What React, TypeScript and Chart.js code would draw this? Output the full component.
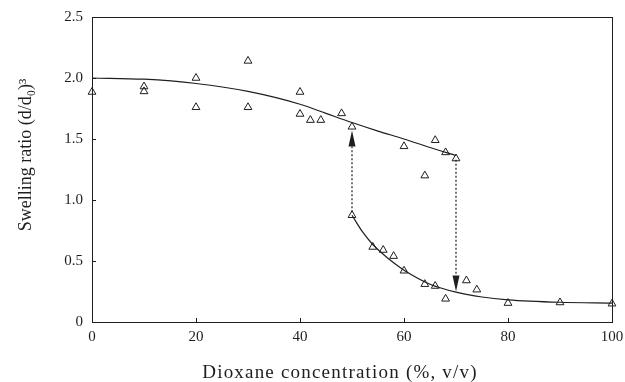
import React, { useEffect, useRef } from "react";
import { Chart, registerables } from "chart.js";

Chart.register(...registerables);

// Measured points (open triangles)
const upperX = [0, 10, 10, 20, 20, 30, 30, 40, 40, 42, 44, 48, 50, 60, 64, 66, 68, 70];
const upperY = [1.885, 1.93, 1.89, 2.0, 1.76, 2.14, 1.76, 1.885, 1.705, 1.655, 1.655, 1.71, 1.6, 1.44, 1.2, 1.49, 1.39, 1.34];
const lowerX = [50, 54, 56, 58, 60, 64, 66, 68, 72, 74, 80, 90, 100];
const lowerY = [0.875, 0.615, 0.59, 0.54, 0.42, 0.31, 0.295, 0.19, 0.34, 0.265, 0.155, 0.16, 0.15];

// Fitted curves
const fitUpperX = [0, 10, 20, 30, 40, 45, 50, 55, 60, 65, 70];
const fitUpperY = [2.0, 1.99, 1.955, 1.89, 1.785, 1.71, 1.635, 1.565, 1.5, 1.43, 1.365];
const fitLowerX = [50, 52, 54, 56, 58, 60, 65, 70, 75, 80, 90, 100];
const fitLowerY = [0.875, 0.74, 0.635, 0.555, 0.485, 0.425, 0.31, 0.245, 0.205, 0.182, 0.162, 0.155];

// Transition arrows: [x, fromY, toY]
const arrowX = [50, 70];
const arrowFrom = [0.9, 1.33];
const arrowTo = [1.57, 0.25];

// Axis ticks and titles
const xTicks = [0, 20, 40, 60, 80, 100];
const yTicks = [0, 0.5, 1.0, 1.5, 2.0, 2.5];
const xTitle = "Dioxane concentration (%, v/v)";
const yTitle = "Swelling ratio (d/d\u2080)\u00B3";

const INK = "#1e1e1e";
const FONT = "'Liberation Serif', 'Times New Roman', serif";

const zip = (xs: number[], ys: number[]) => xs.map((x, i) => ({ x, y: ys[i] }));

const framePlugin = {
  id: "framePlugin",
  afterDatasetsDraw(chart: any) {
    const { ctx, scales } = chart;
    const xs = scales.x;
    const ys = scales.y;
    ctx.save();
    ctx.strokeStyle = INK;
    ctx.fillStyle = INK;
    for (let i = 0; i < arrowX.length; i++) {
      const px = xs.getPixelForValue(arrowX[i]);
      const p0 = ys.getPixelForValue(arrowFrom[i]);
      const p1 = ys.getPixelForValue(arrowTo[i]);
      const dir = p1 < p0 ? -1 : 1;
      const headLen = 16;
      const headW = 3.5;
      const base = p1 - dir * headLen;
      ctx.lineWidth = 1.2;
      ctx.setLineDash([2, 2]);
      ctx.beginPath();
      ctx.moveTo(px, p0);
      ctx.lineTo(px, base);
      ctx.stroke();
      ctx.setLineDash([]);
      ctx.beginPath();
      ctx.moveTo(px, p1);
      ctx.lineTo(px - headW, base);
      ctx.lineTo(px + headW, base);
      ctx.closePath();
      ctx.fill();
    }
    ctx.restore();
  },
  afterDraw(chart: any) {
    const { ctx, chartArea, scales } = chart;
    const { left, right, top, bottom } = chartArea;
    ctx.save();
    ctx.strokeStyle = INK;
    ctx.lineWidth = 1;
    ctx.strokeRect(Math.round(left) + 0.5, Math.round(top) + 0.5, Math.round(right - left), Math.round(bottom - top));
    const tl = 4;
    ctx.beginPath();
    for (const v of xTicks) {
      const px = Math.round(scales.x.getPixelForValue(v)) + 0.5;
      ctx.moveTo(px, bottom);
      ctx.lineTo(px, bottom - tl);
    }
    for (const v of yTicks) {
      const py = Math.round(scales.y.getPixelForValue(v)) + 0.5;
      ctx.moveTo(left, py);
      ctx.lineTo(left + tl, py);
    }
    ctx.stroke();

    // axis titles
    ctx.fillStyle = INK;
    ctx.textAlign = "center";
    ctx.textBaseline = "alphabetic";
    ctx.font = `19px ${FONT}`;
    (ctx as any).letterSpacing = "1.2px";
    ctx.fillText(xTitle, 340, 378);
    (ctx as any).letterSpacing = "0px";
    ctx.translate(31, 155);
    ctx.rotate(-Math.PI / 2);
    ctx.font = `18px ${FONT}`;
    ctx.fillText(yTitle, 0, 0);
    ctx.restore();
  },
};

export default function App() {
  const ref = useRef<HTMLCanvasElement | null>(null);

  useEffect(() => {
    if (!ref.current) return;
    const pointDs = (label: string, data: any[]) => ({
      label,
      data,
      pointStyle: "triangle",
      pointRadius: 4.5,
      borderColor: INK,
      backgroundColor: "rgba(255,255,255,0)",
      borderWidth: 1,
      clip: false,
      order: 0,
    });
    const lineDs = (label: string, data: any[]) => ({
      label,
      type: "line",
      data,
      showLine: true,
      pointRadius: 0,
      borderColor: INK,
      borderWidth: 1.2,
      cubicInterpolationMode: "monotone",
      fill: false,
      clip: false,
      order: 1,
    });
    const chart = new Chart(ref.current, {
      type: "scatter",
      data: {
        datasets: [
          pointDs("upper", zip(upperX, upperY)),
          pointDs("lower", zip(lowerX, lowerY)),
          lineDs("fitUpper", zip(fitUpperX, fitUpperY)),
          lineDs("fitLower", zip(fitLowerX, fitLowerY)),
        ] as any,
      },
      options: {
        responsive: false,
        animation: false,
        layout: { padding: { left: 0, top: 17, right: 13, bottom: 0 } },
        plugins: { legend: { display: false }, tooltip: { enabled: false } },
        scales: {
          x: {
            type: "linear",
            min: 0,
            max: 100,
            afterFit: (s: any) => {
              s.height = 60;
              s.paddingLeft = 0;
              s.paddingRight = 0;
            },
            afterBuildTicks: (s: any) => { s.ticks = xTicks.map((v) => ({ value: v })); },
            grid: { drawOnChartArea: false, drawTicks: false },
            border: { display: false },
            ticks: {
              padding: 6,
              color: INK,
              font: { family: FONT, size: 15 },
              maxRotation: 0,
              callback: (v: any) => String(v),
            },
            title: { display: false },
          },
          y: {
            type: "linear",
            min: 0,
            max: 2.5,
            afterFit: (s: any) => {
              s.width = 92;
              s.paddingTop = 0;
              s.paddingBottom = 0;
            },
            afterBuildTicks: (s: any) => { s.ticks = yTicks.map((v) => ({ value: v })); },
            grid: { drawOnChartArea: false, drawTicks: false },
            border: { display: false },
            ticks: {
              padding: 9,
              color: INK,
              font: { family: FONT, size: 15 },
              callback: (v: any) => (v === 0 ? "0" : Number(v).toFixed(1)),
            },
            title: { display: false },
          },
        },
      },
      plugins: [framePlugin],
    });
    return () => chart.destroy();
  }, []);

  return (
    <div style={{ position: "absolute", left: 0, top: 0, width: 625, height: 382, background: "#fff" }}>
      <canvas ref={ref} width={625} height={382} style={{ display: "block" }} />
    </div>
  );
}
